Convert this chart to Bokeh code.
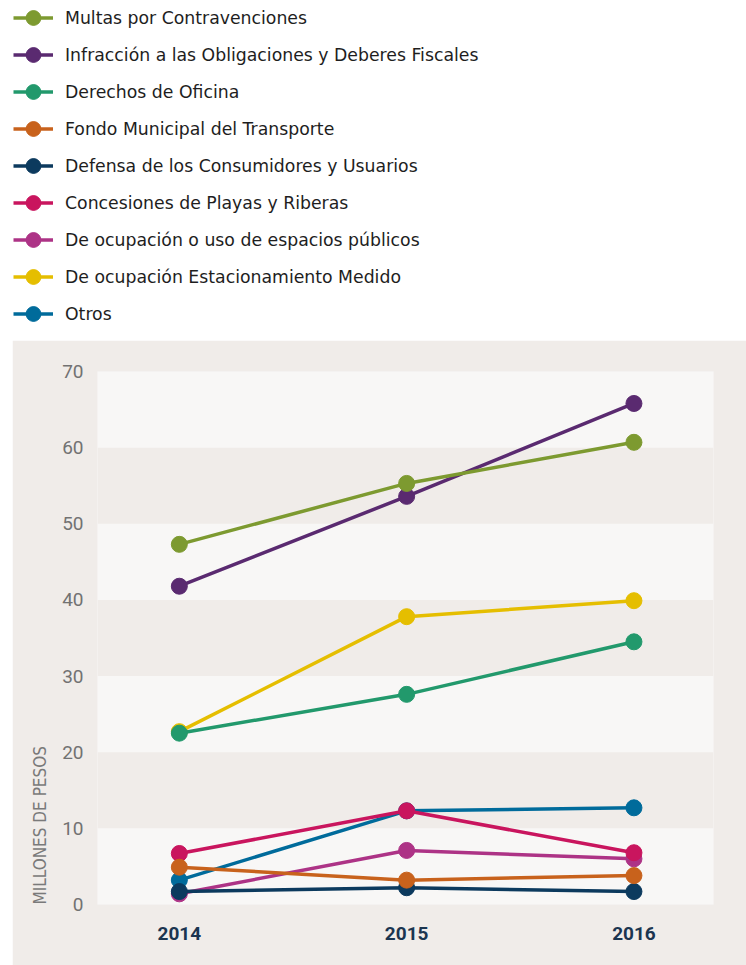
from bokeh.plotting import figure
from bokeh.layouts import column
from bokeh.models import (Range1d, FixedTicker, Legend, LegendItem, BoxAnnotation, Title)
from bokeh.embed import file_html
from bokeh.resources import INLINE

years = [2014, 2015, 2016]
series_names = [
    "Multas por Contravenciones",
    "Infracción a las Obligaciones y Deberes Fiscales",
    "Derechos de Oficina",
    "Fondo Municipal del Transporte",
    "Defensa de los Consumidores y Usuarios",
    "Concesiones de Playas y Riberas",
    "De ocupación o uso de espacios públicos",
    "De ocupación Estacionamiento Medido",
    "Otros",
]
multas = [47.3, 55.3, 60.7]
infraccion = [41.8, 53.6, 65.8]
derechos = [22.5, 27.6, 34.5]
fondo = [4.9, 3.2, 3.8]
defensa = [1.7, 2.2, 1.7]
concesiones = [6.7, 12.3, 6.8]
espacios = [1.4, 7.1, 6.0]
estacionamiento = [22.7, 37.8, 39.9]
otros = [3.2, 12.3, 12.7]
series_values = [multas, infraccion, derechos, fondo, defensa,
                 concesiones, espacios, estacionamiento, otros]
colors = ["#7d9a30", "#5a2a70", "#22996c", "#c8621c", "#0c3a5e",
          "#c9155e", "#ad3386", "#e5be00", "#006b9b"]
y_ticks = [0, 10, 20, 30, 40, 50, 60, 70]
band_bottoms = [0, 20, 40, 60]
band_tops = [10, 30, 50, 70]
y_title = "MILLONES DE PESOS"

GRAY = "#f0ece9"
LIGHT = "#f8f7f6"

# ---------- legend figure (series drawn off-view, only legend visible) ----------
top = figure(width=746, height=340, output_backend="svg", toolbar_location=None,
             x_range=Range1d(0, 1), y_range=Range1d(0, 1),
             x_axis_type=None, y_axis_type=None,
             min_border=0, min_border_left=0, min_border_right=0,
             min_border_top=0, min_border_bottom=0,
             outline_line_color=None, background_fill_color="white",
             border_fill_color="white")
top.frame_align = False
top.grid.visible = False
items = []
for name, vals, c in zip(series_names, series_values, colors):
    lr = top.line(x=years, y=vals, line_color=c, line_width=3.5)
    sr = top.scatter(x=years, y=vals, size=16, fill_color=c, line_color=c)
    items.append(LegendItem(label=name, renderers=[lr, sr]))
leg = Legend(items=items, location=(13, 8), padding=0, margin=0,
             spacing=0, glyph_width=40, glyph_height=37, label_height=37,
             label_standoff=12, border_line_color=None,
             background_fill_alpha=0,
             label_text_font="DejaVu Sans", label_text_font_size="17.3px",
             label_text_color="#1e1e1e")
top.add_layout(leg)

# ---------- chart figure ----------
p = figure(width=734, height=625, output_backend="svg", toolbar_location=None,
           x_range=Range1d(2013.64, 2016.35), y_range=Range1d(0, 70),
           min_border_left=85, min_border_right=33, min_border_top=31,
           min_border_bottom=61, background_fill_color=GRAY,
           border_fill_color=GRAY, outline_line_color=None,
           margin=(0, 0, 0, 12))
p.frame_align = False
p.grid.visible = False
for b, t in zip(band_bottoms, band_tops):
    p.add_layout(BoxAnnotation(bottom=b, top=t, fill_color=LIGHT, fill_alpha=1,
                               line_color=None, level="underlay"))

for vals, c in reversed(list(zip(series_values, colors))):
    p.line(years, vals, line_color=c, line_width=3.5)
    p.scatter(years, vals, size=16, fill_color=c, line_color=c)

p.xaxis.ticker = FixedTicker(ticks=years)
p.xaxis.axis_line_color = None
p.xaxis.major_tick_line_color = None
p.xaxis.minor_tick_line_color = None
p.xaxis.major_label_text_font = "Roboto"
p.xaxis.major_label_text_font_style = "bold"
p.xaxis.major_label_text_font_size = "19px"
p.xaxis.major_label_text_color = "#1b3550"
p.xaxis.major_label_standoff = 16

p.yaxis.ticker = FixedTicker(ticks=y_ticks)
p.yaxis.axis_line_color = None
p.yaxis.major_tick_line_color = None
p.yaxis.minor_tick_line_color = None
p.yaxis.major_label_text_font = "Roboto"
p.yaxis.major_label_text_font_size = "19px"
p.yaxis.major_label_text_color = "#727272"
p.yaxis.major_label_standoff = 8

p.add_layout(Title(text=y_title, align="left", standoff=20,
                   text_font="DejaVu Sans Condensed", text_font_size="17px",
                   text_font_style="normal", text_color="#7a7a7a"), "left")

layout = column(top, p, spacing=0)
open("out.html", "w").write(file_html(layout, INLINE))
